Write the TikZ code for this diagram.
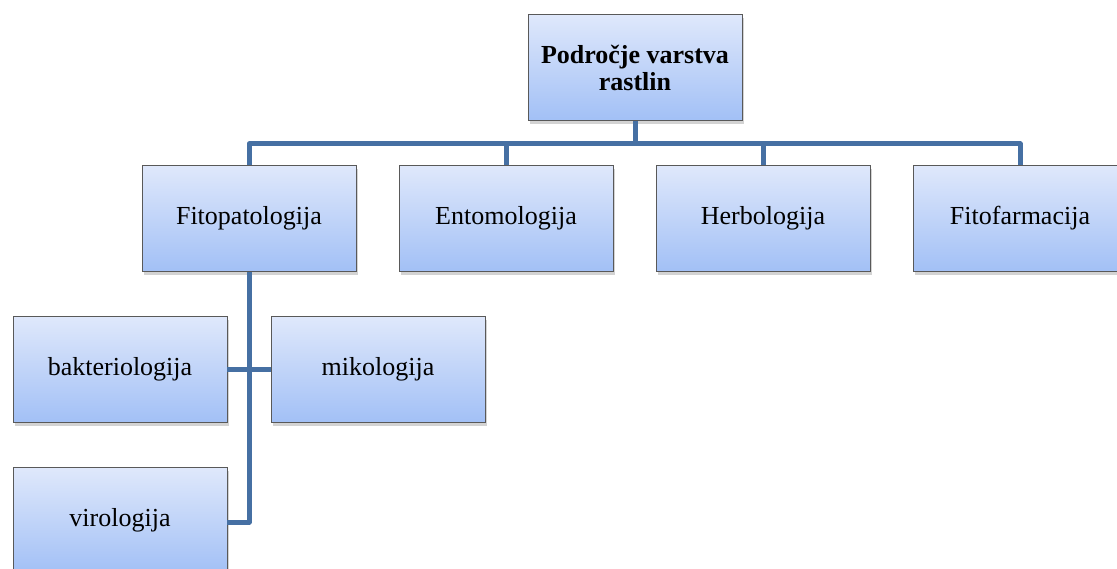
\documentclass[tikz,border=0pt]{standalone}
\usepackage{fontspec}
\setmainfont{Liberation Serif}
\usepackage{tikz}
\usetikzlibrary{calc}
\usetikzlibrary{positioning}
\usetikzlibrary{shadows}
\definecolor{boxtop}{HTML}{DFE8FB}
\definecolor{boxbottom}{HTML}{A2C0F6}
\definecolor{linkblue}{HTML}{4670A3}
\tikzstyle{box} = [draw=black!65, line width=0.9pt, top color=boxtop, bottom color=boxbottom, minimum width=214pt, minimum height=106pt, align=center, font=\fontsize{26}{28}\selectfont, drop shadow={shadow xshift=1.5pt, shadow yshift=-3pt, opacity=0.35}]
\tikzstyle{link} = [draw=linkblue, line width=5pt, line join=round]

\begin{document}
\begin{tikzpicture}[x=1pt,y=1pt,node distance=257pt]
                        \useasboundingbox (0,0) rectangle (1117,-568);

                        \node[box, font=\bfseries\fontsize{26}{27}\selectfont](top) at (635,-67.5) {Področje varstva\\rastlin};
                        \node[box](fito) at (249,-218.5) {Fitopatologija};
                        \node[box, right of=fito](ento) {Entomologija};
                        \node[box, right of=ento](herb) {Herbologija};
                        \node[box, right of=herb](farm) {Fitofarmacija};
                        \node[box, below of=fito, xshift=-129pt, node distance=151pt](bakt) {bakteriologija};
                        \node[box, below of=fito, xshift=129pt, node distance=151pt](miko) {mikologija};
                        \node[box, below of=bakt, node distance=151pt](viro) {virologija};

                        \draw[link](top.south) -- ++(0,-23) -| (fito.north);
                        \draw[link](top.south) -- ++(0,-23) -| (ento.north);
                        \draw[link](top.south) -- ++(0,-23) -| (herb.north);
                        \draw[link](top.south) -- ++(0,-23) -| (farm.north);
                        \draw[link](fito.south) |- ($(viro.east)+(0,-1.5)$);
                        \draw[link](bakt.east) -- (miko.west);
                    \end{tikzpicture}
\end{document}
